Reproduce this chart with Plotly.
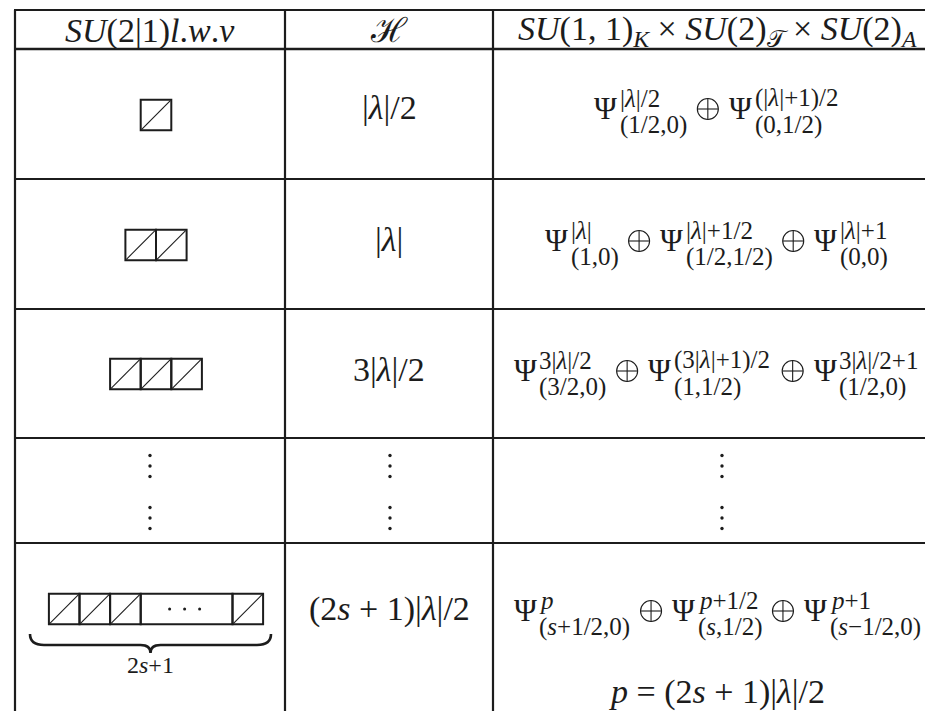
import plotly.graph_objects as go

# ---------------- data ----------------
headers = ["<i>SU</i>(2|1)<i>l</i>.<i>w</i>.<i>v</i>",
           "ℋ",
           "<i>SU</i>(1, 1)<sub><i>K</i></sub> × <i>SU</i>(2)<sub>𝒯</sub> × <i>SU</i>(2)<sub><i>A</i></sub>"]
box_counts = [1, 2, 3, 0, 5]          # tableau cells drawn per row (0 = ellipsis row)
box_label = "2<i>s</i>+1"
energies = ["|λ|/2", "|λ|", "3|λ|/2", "", "(2s + 1)|λ|/2"]
decomp_sup = [["|λ|/2", "(|λ|+1)/2"],
              ["|λ|", "|λ|+1/2", "|λ|+1"],
              ["3|λ|/2", "(3|λ|+1)/2", "3|λ|/2+1"],
              [],
              ["p", "p+1/2", "p+1"]]
decomp_sub = [["(1/2,0)", "(0,1/2)"],
              ["(1,0)", "(1/2,1/2)", "(0,0)"],
              ["(3/2,0)", "(1,1/2)", "(1/2,0)"],
              [],
              ["(s+1/2,0)", "(s,1/2)", "(s−1/2,0)"]]
p_def = "p = (2s + 1)|λ|/2"

# ---------------- layout constants ----------------
W, H = 933, 711
col_x = [7, 277, 485, 933]
row_y = [2, 41, 171, 301, 430, 535, 708]
INK = "#1c1c1c"
FONT = "Liberation Serif, DejaVu Serif, serif"
F = 34      # main text size
FP = 31     # Psi size
S = 25      # script size
U = 30.6    # tableau cell size
psi_y = [100, 232, 362, None, 602]
box_y = [107, 237, 366, None, 601]
box_cx = 148
dots_y = [458, 510]
dots_x = [142, 382, 714]

widths = {'|': 0.2, '(': 0.333, ')': 0.333, '/': 0.278, ',': 0.25, '+': 0.564,
          '−': 0.564, '=': 0.564, ' ': 0.25, 'λ': 0.52, 's': 0.389, 'p': 0.5}


def tw(s, size):
    return sum(widths.get(c, 0.5) for c in s) * size


def fmt(s):
    return "".join(f"<i>{c}</i>" if c in "λsp" else c for c in s)


shapes = []
ann = []


def text(x, y, t, size, xanchor="center", yanchor="middle"):
    ann.append(dict(x=x, y=y, xref="x", yref="y", text=t, showarrow=False,
                    xanchor=xanchor, yanchor=yanchor, borderpad=0,
                    font=dict(family=FONT, size=size, color=INK)))


def dot(x, y, r=1.7):
    shapes.append(dict(type="circle", x0=x - r, x1=x + r, y0=y - r, y1=y + r,
                       fillcolor=INK, line=dict(width=0)))


def oplus(x, y, d=21):
    r = d / 2
    shapes.append(dict(type="circle", x0=x - r, x1=x + r, y0=y - r, y1=y + r,
                       line=dict(color=INK, width=1.1)))
    shapes.append(dict(type="line", x0=x - r, x1=x + r, y0=y, y1=y,
                       line=dict(color=INK, width=1.1)))
    shapes.append(dict(type="line", x0=x, x1=x, y0=y - r, y1=y + r,
                       line=dict(color=INK, width=1.1)))


# grid lines
hw = [2, 2.6, 2, 2, 2, 2, 2.6]
for y, w in zip(row_y, hw):
    shapes.append(dict(type="line", x0=col_x[0] - 1, x1=W, y0=y, y1=y,
                       line=dict(color=INK, width=w)))
for x in col_x[:3]:
    shapes.append(dict(type="line", x0=x, x1=x, y0=row_y[0], y1=row_y[-1],
                       line=dict(color=INK, width=2.2)))

# headers
hy = (row_y[0] + row_y[1]) / 2 + 1
for i, h in enumerate(headers):
    text((col_x[i] + col_x[i + 1]) / 2, hy, h, F)


def tableau(cells, cy, dots=False):
    n_units = cells + (2 if dots else 0)
    x = box_cx - n_units * U / 2
    y0, y1 = cy - U / 2, cy + U / 2
    for k in range(cells):
        is_dots = dots and k == cells - 2
        wdt = 3 * U if is_dots else U
        shapes.append(dict(type="rect", x0=x, x1=x + wdt, y0=y0, y1=y1,
                           line=dict(color=INK, width=2)))
        if is_dots:
            for j in (-1, 0, 1):
                dot(x + wdt / 2 - 2 + 15 * j, cy, 1.5)
        else:
            shapes.append(dict(type="line", x0=x + 1, x1=x + wdt - 1, y0=y1 - 1, y1=y0 + 1,
                               line=dict(color=INK, width=1.1)))
        x += wdt


col2c = (col_x[1] + col_x[2]) / 2
col3c = (col_x[2] + col_x[3]) / 2

for r in range(5):
    if box_counts[r] == 0:
        for cx in dots_x:
            for cy in dots_y:
                for j in (-1, 0, 1):
                    dot(cx, cy + 10.5 * j)
        continue
    dots = r == 4
    tableau(box_counts[r], box_y[r], dots)
    if dots:
        bx0, bx1 = 22, 263
        yt, yb, ytip = 626, 637, 645
        xm = (bx0 + bx1) / 2
        path = (f"M {bx0},{yt} Q {bx0},{yb} {bx0+14},{yb} L {xm-10},{yb} "
                f"Q {xm},{yb} {xm},{ytip} Q {xm},{yb} {xm+10},{yb} "
                f"L {bx1-14},{yb} Q {bx1},{yb} {bx1},{yt}")
        shapes.append(dict(type="path", path=path, line=dict(color=INK, width=2.6)))
        text(xm, 657, box_label, 24)
    # energy column
    text(col2c, psi_y[r] - 1, fmt(energies[r]), F)
    # decomposition column
    sups, subs = decomp_sup[r], decomp_sub[r]
    psi_w = 0.72 * FP
    op_w = 23
    gap = 10
    total = 0
    for k in range(len(sups)):
        if k:
            total += 2 * gap + op_w
        total += psi_w + 2 + max(tw(sups[k], S), tw(subs[k], S))
    x = col3c - total / 2
    yc = psi_y[r]
    for k in range(len(sups)):
        if k:
            x += gap
            oplus(x + op_w / 2, yc + 1)
            x += op_w + gap
        text(x + psi_w / 2, yc, "Ψ", FP)
        x += psi_w + 2
        text(x, yc - 10, fmt(sups[k]), S, xanchor="left")
        text(x, yc + 17, fmt(subs[k]), S, xanchor="left")
        x += max(tw(sups[k], S), tw(subs[k], S))
    if r == 4:
        text(col3c, 684, fmt(p_def), F)

fig = go.Figure()
fig.update_layout(
    width=W, height=H, margin=dict(l=0, r=0, t=0, b=0),
    paper_bgcolor="white", plot_bgcolor="white",
    xaxis=dict(range=[0, W], visible=False, fixedrange=True),
    yaxis=dict(range=[H, 0], visible=False, fixedrange=True),
    shapes=shapes, annotations=ann, showlegend=False,
)
fig.write_html("out.html")
